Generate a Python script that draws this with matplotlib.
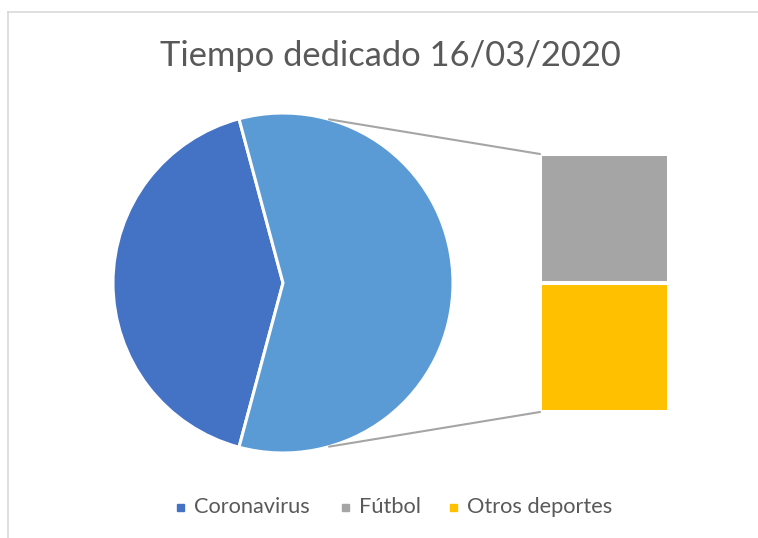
import matplotlib
matplotlib.use("Agg")
import matplotlib.pyplot as plt
from matplotlib.patches import ConnectionPatch
from matplotlib.lines import Line2D
import numpy as np

plt.rcParams['font.family'] = ['Lato', 'DejaVu Sans']

# ---- data ----
title = "Tiempo dedicado 16/03/2020"
categories = ["Coronavirus", "Fútbol", "Otros deportes"]
values = [5, 3.5, 3.5]
colors = ["#4472C4", "#A5A5A5", "#FFC000"]
other_color = "#5B9BD5"

W, H = 758, 538
fig = plt.figure(figsize=(W / 100, H / 100), dpi=100)

# main axes in pixel coordinates (y up)
ax = fig.add_axes([0, 0, 1, 1])
ax.set_xlim(0, W)
ax.set_ylim(0, H)
ax.set_aspect('equal')
ax.axis('off')

# chart border (top and left visible)
ax.add_line(Line2D([7.5, 7.5], [0, H - 11.5], color="#D9D9D9", lw=1.2))
ax.add_line(Line2D([7.5, W], [H - 11.5, H - 11.5], color="#D9D9D9", lw=1.2))

# pie: Coronavirus + combined rest
pie_vals = [values[0], sum(values[1:])]
cx, cy, r = 283, H - 283, 170
frac0 = pie_vals[0] / sum(pie_vals)
start = 180 - frac0 * 360 / 2
wedges, _ = ax.pie(pie_vals, colors=[colors[0], other_color], startangle=start,
                   center=(cx, cy), radius=r, counterclock=True,
                   wedgeprops=dict(edgecolor="white", linewidth=2.2), frame=True)
ax.set_xlim(0, W)
ax.set_ylim(0, H)
ax.axis('off')
for w in wedges:
    w.set_zorder(3)

# bar of the rest
bx = fig.add_axes([540 / W, (H - 412) / H, 129 / W, 258 / H])
bx.set_xlim(-0.5, 0.5)
bx.set_ylim(0, sum(values[1:]))
bx.axis('off')
bottom = 0
for v, c in zip(values[:0:-1], colors[:0:-1]):
    bx.bar(0, v, width=1.0, bottom=bottom, color=c, edgecolor="white", linewidth=2.9)
    bottom += v

# connector lines
ang = np.deg2rad(74.3)
for sgn, ybar in [(1, sum(values[1:])), (-1, 0)]:
    p = (cx + r * np.cos(ang), cy + sgn * r * np.sin(ang))
    con = ConnectionPatch(xyA=p, coordsA=ax.transData, xyB=(-0.5, ybar), coordsB=bx.transData,
                          color="#A5A5A5", lw=1.5, zorder=1)
    fig.add_artist(con)

# title
fig.text(390 / W, 1 - 56 / H, title, ha='center', va='center', fontsize=24.8,
         color="#595959")

# legend
leg_items = [(177, 194, categories[0], colors[0]),
             (342, 359, categories[1], colors[1]),
             (450, 467, categories[2], colors[2])]
for sx, tx, lab, c in leg_items:
    ax.add_patch(plt.Rectangle((sx, H - 511), 7, 7, color=c, zorder=5))
    ax.text(tx, H - 507, lab, ha='left', va='center', fontsize=15.7, color="#595959")

fig.savefig("out.png", dpi=100)
